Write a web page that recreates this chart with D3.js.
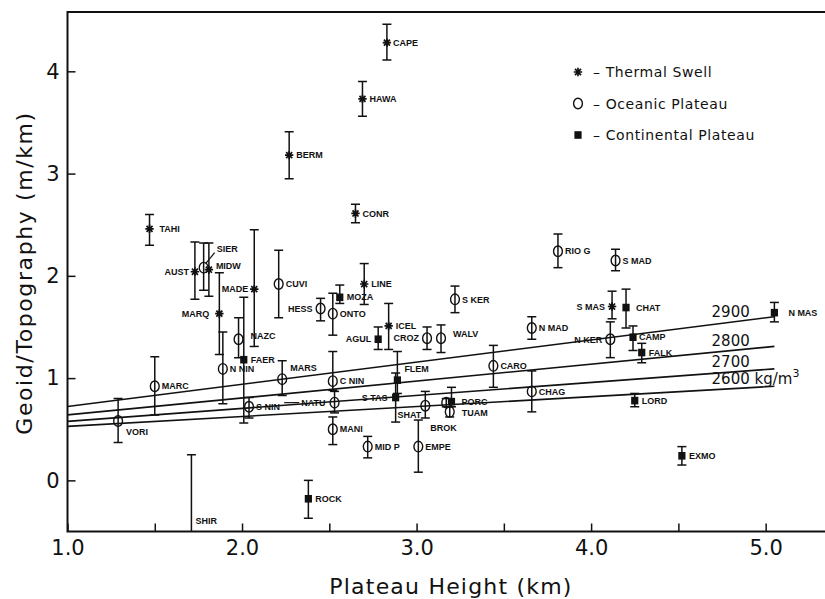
<!DOCTYPE html>
<html>
<head>
<meta charset="utf-8">
<script src="https://cdn.jsdelivr.net/npm/d3@7"></script>
<style>
body{margin:0;background:#fff;}
svg{display:block;}
.tick-text{font-family:"DejaVu Sans",sans-serif;font-size:21px;fill:#111;}
.axis-title{font-family:"DejaVu Sans",sans-serif;font-size:22px;fill:#111;}
.station{font-family:"Liberation Sans",Arial,sans-serif;font-size:9px;font-weight:bold;fill:#111;}
.legend-text{font-family:"DejaVu Sans",sans-serif;font-size:14px;fill:#111;letter-spacing:0.6px;}
.density-text{font-family:"DejaVu Sans",sans-serif;font-size:15px;fill:#111;}
</style>
</head>
<body>
<div id="chart"></div>
<script>
// stations: T = thermal swell, O = oceanic plateau, C = continental plateau
var names  = ['CAPE','HAWA','BERM','CONR','TAHI','AUST','MIDW','MARQ','MADE','LINE','ICEL','S MAS',
              'SIER','N NIN','NAZC','S NIN','MARC','VORI','SHIR','CUVI','MARS','HESS','ONTO','C NIN','NATU','MANI','MID P','EMPE','CROZ','WALV','S KER','SHAT','BROK','TUAM','CARO','CHAG','N MAD','RIO G','S MAD','N KER',
              'FAER','MOZA','ROCK','AGUL','FLEM','S TAS','PORC','CHAT','CAMP','FALK','N MAS','LORD','EXMO'];
var kinds  = ['T','T','T','T','T','T','T','T','T','T','T','T',
              'O','O','O','O','O','O','O','O','O','O','O','O','O','O','O','O','O','O','O','O','O','O','O','O','O','O','O','O',
              'C','C','C','C','C','C','C','C','C','C','C','C','C'];
var heights = [2.83,2.69,2.27,2.65,1.47,1.73,1.81,1.87,2.07,2.70,2.84,4.12,
               1.78,1.89,1.98,2.04,1.50,1.29,1.71,2.21,2.23,2.45,2.52,2.52,2.53,2.52,2.72,3.01,3.06,3.14,3.22,3.05,3.17,3.19,3.44,3.66,3.66,3.81,4.14,4.11,
               2.01,2.56,2.38,2.78,2.89,2.88,3.20,4.20,4.24,4.29,5.05,4.25,4.52];
var ratios  = [4.28,3.73,3.18,2.61,2.46,2.04,2.06,1.63,1.87,1.92,1.51,1.70,
               2.08,1.09,1.38,0.72,0.92,0.58,-0.80,1.92,0.99,1.68,1.63,0.97,0.76,0.50,0.33,0.33,1.39,1.39,1.77,0.73,0.76,0.67,1.12,0.87,1.49,2.24,2.15,1.38,
               1.18,1.79,-0.18,1.38,0.98,0.81,0.77,1.69,1.40,1.25,1.64,0.78,0.24];
var errLow  = [4.11,3.56,2.95,2.52,2.30,1.77,1.80,1.23,1.31,1.72,1.28,1.58,
               1.86,0.75,1.20,0.61,0.64,0.37,-1.85,1.59,0.83,1.56,1.42,0.88,0.66,0.35,0.22,0.08,1.28,1.25,1.64,0.61,0.72,0.62,0.91,0.67,1.38,2.08,2.05,1.20,
               0.56,1.73,-0.37,1.28,0.85,0.57,0.72,1.49,1.27,1.15,1.55,0.72,0.15];
var errHigh = [4.46,3.90,3.41,2.70,2.60,2.33,2.32,2.03,2.45,2.12,1.73,1.85,
               2.32,1.45,1.59,0.81,1.21,0.80,0.25,2.25,1.17,1.78,1.83,1.26,0.87,0.62,0.43,0.59,1.50,1.52,1.90,0.87,0.80,0.72,1.32,1.07,1.60,2.41,2.26,1.55,
               1.79,1.91,0.00,1.50,1.26,1.05,0.91,1.87,1.51,1.34,1.74,0.85,0.33];

// compensation lines for crustal densities, value at x = 1.0 and x = 5.05
var densities = ['2900','2800','2700','2600'];
var lineX = [1.0, 5.05];
var lineStart = [0.723, 0.640, 0.577, 0.528];
var lineEnd = [1.60, 1.31, 1.09, 0.92];

var xTicks = [1,1.5,2,2.5,3,3.5,4,4.5,5];
var yTicks = [0,1,2,3,4];
var legendItems = [['T','Thermal Swell'],['O','Oceanic Plateau'],['C','Continental Plateau']];

// label placement: [anchor, dx, dy]
var labelPlace = {
  'AUST':['end',-6,0],'MARQ':['end',-10,0],'MADE':['end',-6,0],'HESS':['end',-8,0],
  'AGUL':['end',-7,0],'CROZ':['end',-8,0],'S TAS':['end',-8,0],'N KER':['end',-8,1],
  'S MAS':['end',-7,0],'NATU':['end',-9,0],'SHAT':['end',-4,9],
  'SIER':['start',13,-19],'MIDW':['start',7,-4],'MARS':['start',8,-11],'VORI':['start',8,11],
  'FLEM':['start',7,-11],'BROK':['start',-16,25],'TAHI':['start',10,0],'NAZC':['start',12,-3],
  'PORC':['start',10,0],'TUAM':['start',12,1],'N MAS':['start',14,0],'CHAT':['start',10,0],
  'WALV':['start',12,-4],'CAPE':['start',6,0],'CAMP':['start',6,0]
};

var width = 825, height = 599;
var margin = {left: 67.5, top: 12, bottom: 67.5};
var x = d3.scaleLinear().domain([1, 5.34]).range([margin.left, width]);
var y = d3.scaleLinear().domain([-0.5, 4.58]).range([height - margin.bottom, margin.top]);

var svg = d3.select('#chart').append('svg')
  .attr('width', width).attr('height', height);

svg.append('defs').append('clipPath').attr('id','plot-clip')
  .append('rect')
  .attr('x', margin.left).attr('y', margin.top)
  .attr('width', width - margin.left).attr('height', y(-0.5) - margin.top);

// frame
svg.append('path')
  .attr('d', 'M' + width + ',' + y(4.58) + 'H' + x(1) + 'V' + y(-0.5) + 'H' + width)
  .attr('fill','none').attr('stroke','#111').attr('stroke-width',2);

var xAxis = d3.axisBottom(x).tickValues(xTicks).tickSize(-8).tickPadding(9)
  .tickFormat(function(d){ return d % 1 === 0 ? d3.format('.1f')(d) : ''; });
var gx = svg.append('g').attr('transform','translate(0,' + y(-0.5) + ')').call(xAxis);
gx.select('.domain').remove();
gx.selectAll('line').attr('stroke','#111').attr('stroke-width',1.5);
gx.selectAll('text').attr('class','tick-text').attr('fill',null);

var yAxis = d3.axisLeft(y).tickValues(yTicks).tickSize(-8).tickPadding(8).tickFormat(d3.format('d'));
var gy = svg.append('g').attr('transform','translate(' + x(1) + ',0)').call(yAxis);
gy.select('.domain').remove();
gy.selectAll('line').attr('stroke','#111').attr('stroke-width',1.5);
gy.selectAll('text').attr('class','tick-text').attr('fill',null);

svg.append('text').attr('class','axis-title')
  .attr('x', 451).attr('y', 594)
  .attr('text-anchor','middle').style('letter-spacing','1.2px')
  .text('Plateau Height (km)');

svg.append('text').attr('class','axis-title')
  .attr('transform','translate(32,273) rotate(-90)')
  .attr('text-anchor','middle').style('letter-spacing','1.6px')
  .text('Geoid/Topography (m/km)');

// density lines
var plot = svg.append('g').attr('clip-path','url(#plot-clip)');
densities.forEach(function(d, i){
  plot.append('line')
    .attr('x1', x(lineX[0])).attr('y1', y(lineStart[i]))
    .attr('x2', x(lineX[1])).attr('y2', y(lineEnd[i]))
    .attr('stroke','#111').attr('stroke-width',1.6);
  var lx = 4.69;
  var lv = lineStart[i] + (lineEnd[i] - lineStart[i]) * (4.85 - lineX[0]) / (lineX[1] - lineX[0]);
  var t = svg.append('text').attr('class','density-text')
    .attr('x', x(lx)).attr('y', y(lv) - 4);
  if (d === '2600') {
    t.text(d + ' kg/m');
    t.append('tspan').attr('dy', -7).style('font-size','11px').text('3');
  } else {
    t.text(d);
  }
});

var stations = names.map(function(n, i){
  return {name: n, kind: kinds[i], h: heights[i], r: ratios[i], lo: errLow[i], hi: errHigh[i]};
});

// error bars
var bars = plot.append('g').attr('stroke','#111').attr('stroke-width',1.5);
stations.forEach(function(d){
  var cx = x(d.h);
  bars.append('line').attr('x1',cx).attr('x2',cx).attr('y1',y(d.lo)).attr('y2',y(d.hi));
  bars.append('line').attr('x1',cx-4.5).attr('x2',cx+4.5).attr('y1',y(d.hi)).attr('y2',y(d.hi));
  bars.append('line').attr('x1',cx-4.5).attr('x2',cx+4.5).attr('y1',y(d.lo)).attr('y2',y(d.lo));
});

function drawMarker(g, kind, cx, cy){
  if (kind === 'O') {
    g.append('ellipse').attr('cx',cx).attr('cy',cy).attr('rx',4.4).attr('ry',5.3)
      .attr('fill','none').attr('stroke','#111').attr('stroke-width',1.4);
  } else if (kind === 'C') {
    g.append('rect').attr('x',cx-3.6).attr('y',cy-3.8).attr('width',7.2).attr('height',7.6)
      .attr('fill','#111');
  } else {
    var r = 4.2, a = r * 0.72;
    g.append('path')
      .attr('d','M'+(cx-r)+','+cy+'H'+(cx+r)+'M'+cx+','+(cy-r)+'V'+(cy+r)+
        'M'+(cx-a)+','+(cy-a)+'L'+(cx+a)+','+(cy+a)+'M'+(cx-a)+','+(cy+a)+'L'+(cx+a)+','+(cy-a))
      .attr('stroke','#111').attr('stroke-width',1.7).attr('fill','none');
  }
}

var marks = plot.append('g');
stations.forEach(function(d){ drawMarker(marks, d.kind, x(d.h), y(d.r)); });

// station labels
var labels = svg.append('g');
stations.forEach(function(d){
  var p = labelPlace[d.name] || ['start',7,0];
  var cx = x(d.h), cy = y(d.r);
  if (d.name === 'SHIR') {
    labels.append('text').attr('class','station').attr('x', cx + 4).attr('y', y(-0.5) - 8).text(d.name);
    return;
  }
  var label = labels.append('text').attr('class','station')
    .attr('x', cx + p[1]).attr('y', cy + p[2]).attr('dy','0.35em')
    .attr('text-anchor', p[0]).text(d.name);
  if (d.name === 'SIER') {
    labels.append('line').attr('x1',cx+2).attr('y1',cy-4).attr('x2',cx+11).attr('y2',cy-15)
      .attr('stroke','#111').attr('stroke-width',1.2);
  }
  if (d.name === 'NATU') {
    var w = label.node().getComputedTextLength();
    var start = cx + p[1] - w - 2;
    labels.append('line').attr('x1',start).attr('y1',cy).attr('x2',start-15).attr('y2',cy)
      .attr('stroke','#111').attr('stroke-width',1.2);
  }
});

// legend
var legend = svg.append('g').attr('transform','translate(578,72)');
legendItems.forEach(function(item, i){
  var gy0 = i * 31.5;
  drawMarker(legend, item[0], 0, gy0);
  legend.append('text').attr('class','legend-text')
    .attr('x', 15).attr('y', gy0).attr('dy','0.36em').text('\u2013  ' + item[1]);
});
</script>
</body>
</html>
